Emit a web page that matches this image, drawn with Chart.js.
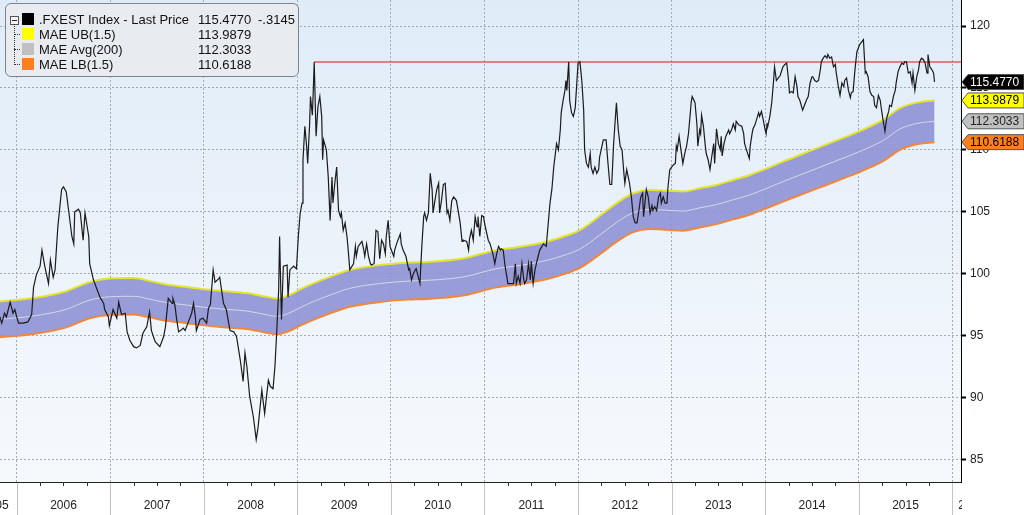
<!DOCTYPE html>
<html>
<head>
<meta charset="utf-8">
<script src="https://cdn.jsdelivr.net/npm/chart.js@4.4.1/dist/chart.umd.min.js"></script>
<style>
  html, body { margin: 0; padding: 0; background: #fff; }
  #wrap { position: relative; width: 1024px; height: 515px; overflow: hidden; }
  #legend {
    position: absolute; left: 5px; top: 3px; width: 292px; height: 72px;
    background: rgba(232, 235, 239, 0.96); border: 1px solid #80858b; border-radius: 6px;
    font-family: "Liberation Sans", Arial, sans-serif; font-size: 13px; color: #111;
  }
  #legend .row { position: absolute; left: 0; height: 15px; line-height: 15px; width: 100%; white-space: nowrap; }
  #legend .sw { position: absolute; left: 16px; top: 1px; width: 12px; height: 12px; }
  #legend .nm { position: absolute; left: 33px; }
  #legend .val { position: absolute; left: 192px; }
  #legend .chg { position: absolute; left: 252px; }
  #legend .tree { position: absolute; left: 8px; top: 20px; width: 0; height: 41px; border-left: 1px dotted #333; }
  #legend .br { position: absolute; left: 8px; width: 6px; height: 0; border-top: 1px dotted #333; }
  #legend .minus { position: absolute; left: 4px; top: 12px; width: 7px; height: 7px; border: 1px solid #555; background: #f4f4f4; }
  #legend .minus:after { content: ""; position: absolute; left: 1px; top: 3px; width: 5px; height: 1px; background: #222; }
</style>
</head>
<body>
<div id="wrap">
  <canvas id="chart" width="1024" height="515"></canvas>
  <div id="legend"></div>
</div>
<script>
// axis ticks / labels
const yearTicks = [2006, 2007, 2008, 2009, 2010, 2011, 2012, 2013, 2014, 2015, 2016];
const yearLabels = ["2005", "2006", "2007", "2008", "2009", "2010", "2011", "2012", "2013", "2014", "2015", "2016"];
const yTicks = [85, 90, 95, 100, 105, 110, 115, 120];
const xMin = 2005.8215, xMax = 2016.093;
const yMin = 83.17, yMax = 122.1;

// .FXEST Index last price (dates as decimal years)
const priceDates = [
  2005.82,2005.84,2005.87,2005.89,2005.93,2005.96,2005.98,2006.00,2006.02,2006.07,2006.12,2006.16,2006.18,2006.21,2006.25,2006.27,2006.30,2006.34,2006.36,2006.39,
  2006.41,2006.44,2006.48,2006.50,2006.53,2006.55,2006.59,2006.61,2006.62,2006.66,2006.68,2006.71,2006.73,2006.77,2006.78,2006.82,2006.85,2006.89,2006.93,2006.94,
  2006.98,2006.99,2007.03,2007.07,2007.09,2007.12,2007.16,2007.18,2007.21,2007.25,2007.28,2007.32,2007.35,2007.39,2007.42,2007.44,2007.48,2007.53,2007.57,2007.59,
  2007.62,2007.66,2007.67,2007.69,2007.71,2007.73,2007.75,2007.78,2007.80,2007.83,2007.87,2007.89,2007.91,2007.92,2007.96,2007.99,2008.03,2008.05,2008.07,2008.10,
  2008.12,2008.16,2008.17,2008.21,2008.24,2008.28,2008.32,2008.35,2008.39,2008.42,2008.44,2008.46,2008.49,2008.53,2008.56,2008.58,2008.62,2008.65,2008.69,2008.71,
  2008.74,2008.76,2008.78,2008.80,2008.81,2008.83,2008.85,2008.89,2008.90,2008.92,2008.96,2008.99,2009.01,2009.03,2009.05,2009.06,2009.08,2009.10,2009.11,2009.13,
  2009.14,2009.16,2009.17,2009.18,2009.20,2009.22,2009.24,2009.26,2009.27,2009.28,2009.31,2009.33,2009.35,2009.37,2009.38,2009.40,2009.42,2009.44,2009.46,2009.47,
  2009.49,2009.51,2009.53,2009.54,2009.56,2009.60,2009.62,2009.63,2009.65,2009.67,2009.69,2009.71,2009.72,2009.74,2009.76,2009.78,2009.79,2009.82,2009.84,2009.86,
  2009.88,2009.90,2009.92,2009.94,2009.95,2009.97,2009.99,2010.03,2010.04,2010.06,2010.10,2010.11,2010.13,2010.16,2010.19,2010.20,2010.22,2010.24,2010.26,2010.27,
  2010.31,2010.33,2010.35,2010.36,2010.38,2010.40,2010.42,2010.44,2010.45,2010.47,2010.49,2010.51,2010.52,2010.54,2010.56,2010.58,2010.60,2010.61,2010.63,2010.65,
  2010.67,2010.70,2010.74,2010.76,2010.77,2010.81,2010.83,2010.84,2010.86,2010.88,2010.90,2010.92,2010.93,2010.95,2010.97,2010.99,2011.00,2011.04,2011.06,2011.09,
  2011.11,2011.13,2011.15,2011.17,2011.18,2011.20,2011.22,2011.24,2011.25,2011.27,2011.31,2011.33,2011.34,2011.36,2011.38,2011.40,2011.42,2011.43,2011.45,2011.47,
  2011.49,2011.50,2011.52,2011.54,2011.56,2011.59,2011.63,2011.66,2011.70,2011.72,2011.74,2011.77,2011.79,2011.81,2011.82,2011.84,2011.86,2011.87,2011.88,2011.90,
  2011.91,2011.93,2011.95,2011.97,2011.98,2012.00,2012.02,2012.04,2012.06,2012.07,2012.09,2012.11,2012.13,2012.14,2012.16,2012.18,2012.20,2012.22,2012.23,2012.27,
  2012.30,2012.32,2012.34,2012.36,2012.38,2012.39,2012.41,2012.43,2012.45,2012.47,2012.49,2012.50,2012.52,2012.55,2012.57,2012.59,2012.61,2012.63,2012.65,2012.67,
  2012.69,2012.70,2012.73,2012.75,2012.77,2012.79,2012.80,2012.82,2012.84,2012.86,2012.88,2012.89,2012.91,2012.93,2012.95,2012.96,2012.98,2013.00,2013.02,2013.04,
  2013.05,2013.06,2013.08,2013.10,2013.12,2013.14,2013.16,2013.18,2013.20,2013.21,2013.22,2013.25,2013.27,2013.28,2013.30,2013.31,2013.32,2013.34,2013.36,2013.37,
  2013.39,2013.41,2013.43,2013.45,2013.46,2013.48,2013.50,2013.52,2013.53,2013.54,2013.56,2013.58,2013.61,2013.62,2013.64,2013.66,2013.68,2013.69,2013.72,2013.75,
  2013.77,2013.78,2013.80,2013.83,2013.84,2013.86,2013.87,2013.89,2013.91,2013.93,2013.94,2013.96,2013.98,2014.00,2014.01,2014.02,2014.03,2014.05,2014.07,2014.09,
  2014.10,2014.12,2014.16,2014.19,2014.21,2014.23,2014.25,2014.26,2014.28,2014.30,2014.32,2014.34,2014.35,2014.37,2014.40,2014.41,2014.44,2014.46,2014.48,2014.50,
  2014.51,2014.53,2014.55,2014.57,2014.59,2014.60,2014.62,2014.64,2014.66,2014.67,2014.69,2014.71,2014.73,2014.75,2014.76,2014.78,2014.80,2014.82,2014.84,2014.85,
  2014.87,2014.89,2014.91,2014.92,2014.94,2014.96,2014.98,2015.00,2015.01,2015.03,2015.05,2015.07,2015.08,2015.10,2015.12,2015.14,2015.16,2015.17,2015.19,2015.21,
  2015.23,2015.24,2015.26,2015.28,2015.30,2015.32,2015.33,2015.35,2015.37,2015.39,2015.40,2015.42,2015.44,2015.46,2015.48,2015.49,2015.51,2015.53,2015.55,2015.57,
  2015.58,2015.60,2015.62,2015.64,2015.65,2015.67,2015.69,2015.71,2015.73,2015.74,2015.76,2015.78,2015.80,2015.81
];
const priceValues = [
  96.5,96.0,96.8,96.5,97.7,96.8,97.1,96.5,96.0,96.0,96.1,96.7,98.9,99.9,100.6,101.9,100.6,99.2,101.1,99.7,
  100.3,103.8,106.8,107.0,106.6,105.4,103.0,102.4,105.0,105.2,104.9,102.7,104.9,103.0,100.8,99.5,98.9,98.1,97.6,97.1,
  96.5,95.8,97.1,96.4,97.7,96.7,96.8,95.3,94.6,94.1,94.0,94.2,95.2,95.7,96.9,95.4,94.5,94.1,94.9,95.7,
  98.0,97.6,98.0,97.5,96.3,95.3,95.4,95.6,95.4,96.0,96.8,97.6,96.5,95.4,96.3,96.4,96.0,97.2,97.5,100.3,
  99.3,99.6,99.7,97.6,97.1,95.4,95.3,94.9,93.0,91.3,93.6,92.5,90.1,88.4,86.6,87.6,90.6,88.7,91.4,90.9,
  90.7,92.5,95.4,98.7,103.0,96.3,100.6,100.7,98.1,100.3,100.6,100.4,103.0,104.9,105.7,109.2,111.9,110.2,108.9,111.9,
  114.3,112.8,114.8,117.1,111.1,113.5,114.3,112.7,109.2,110.8,110.0,107.8,104.3,107.8,105.7,107.3,108.6,105.1,104.6,104.9,
  103.5,104.1,103.0,102.2,100.3,100.8,102.2,101.4,102.2,102.4,102.6,101.9,101.4,102.4,101.4,100.8,100.7,100.8,103.5,103.4,
  101.2,102.7,102.4,101.6,103.0,104.3,102.2,101.4,101.9,102.4,103.2,102.4,101.9,101.4,100.3,100.4,99.5,100.0,100.3,100.4,
  99.2,102.2,104.6,104.9,104.3,104.9,108.1,106.8,104.9,105.9,106.8,107.3,104.9,105.9,107.2,107.3,104.9,105.1,104.3,105.9,
  106.2,105.9,104.1,102.6,102.7,102.6,101.9,102.8,103.5,102.7,104.6,103.8,104.6,103.0,104.7,104.6,104.1,102.7,102.4,101.6,
  100.8,101.6,102.2,101.9,102.0,101.9,100.6,99.7,99.2,99.2,99.2,100.8,99.2,99.8,99.2,100.8,99.5,99.2,99.5,100.8,
  99.5,101.0,99.2,100.3,101.0,101.9,102.4,102.2,105.7,106.8,108.6,110.5,110.0,111.6,113.0,114.0,114.8,115.6,114.8,117.1,
  114.0,113.0,112.7,113.4,114.6,117.0,117.1,115.6,113.2,110.0,108.9,108.6,109.7,108.6,108.1,108.6,108.1,108.4,109.4,110.8,
  110.8,108.9,107.2,107.2,110.5,111.6,113.8,111.6,110.3,110.0,108.1,107.3,108.4,107.3,106.2,104.6,104.1,104.1,105.1,106.2,
  106.5,104.6,106.8,106.2,104.9,105.5,105.1,105.4,105.1,106.2,106.5,105.7,106.2,105.7,105.7,106.9,108.4,108.6,108.8,108.9,
  110.3,110.0,111.1,110.0,108.9,109.7,110.3,111.3,113.0,113.9,114.3,113.8,112.1,110.3,111.6,111.3,112.8,111.9,110.3,109.7,
  109.2,108.4,109.5,110.5,108.9,111.7,110.5,110.0,111.1,109.5,110.5,111.1,111.6,111.3,111.6,112.1,111.6,112.3,112.0,111.9,
  111.3,110.5,110.0,109.3,110.3,111.3,111.7,112.0,112.5,113.0,112.7,113.1,112.4,111.6,111.3,112.1,112.0,112.7,113.8,115.6,
  116.7,115.6,116.0,116.7,116.9,117.0,115.6,114.6,114.7,114.6,115.9,115.1,114.3,114.0,113.2,113.4,114.0,114.3,115.4,115.9,
  115.9,115.6,115.5,115.6,116.5,117.1,117.4,117.6,117.4,117.7,117.4,117.5,116.7,116.9,116.2,115.2,114.4,115.4,115.1,115.6,
  115.8,114.8,114.2,114.6,114.7,116.5,117.9,118.3,118.5,118.7,118.9,116.2,116.3,115.9,114.7,114.4,114.3,113.6,113.4,114.4,
  114.0,113.4,112.4,111.5,112.6,113.1,113.6,113.5,114.3,114.8,115.4,116.3,116.7,117.0,116.9,117.1,117.1,116.2,116.3,115.4,
  116.2,114.8,115.9,116.5,117.1,117.4,117.3,117.0,116.2,117.7,116.7,116.5,116.2,115.477
];
const priceChange = -0.3145;

// moving average envelope MAE(200, 1.5%)
const bandDates = [
  2005.82,2006.18,2006.53,2006.78,2006.99,2007.25,2007.42,2007.60,2007.82,2008.03,2008.24,2008.46,2008.67,2008.78,2008.92,2009.03,2009.17,
  2009.35,2009.56,2009.88,2010.17,2010.42,2010.77,2011.13,2011.38,2011.66,2011.84,2012.02,2012.23,2012.41,2012.59,2012.77,2012.95,
  2013.12,2013.30,2013.48,2013.66,2013.84,2014.02,2014.19,2014.37,2014.55,2014.73,2014.91,2015.08,2015.26,2015.44,2015.62,2015.81
];
const maeAvg = [
  96.31,96.58,97.12,97.86,98.13,98.17,97.94,97.66,97.46,97.26,97.11,96.98,96.68,96.55,96.84,97.26,97.74,
  98.27,98.81,99.20,99.39,99.47,99.73,100.40,100.66,101.06,101.46,101.99,103.10,104.12,104.92,105.18,105.12,
  105.05,105.31,105.58,105.97,106.37,106.90,107.43,107.96,108.49,109.02,109.55,110.09,110.75,111.68,112.13,112.3033
];
const maeUpper = [
  97.75,98.03,98.58,99.33,99.60,99.64,99.41,99.12,98.92,98.72,98.57,98.43,98.13,98.00,98.29,98.72,99.21,
  99.74,100.29,100.69,100.88,100.96,101.23,101.91,102.17,102.58,102.98,103.52,104.65,105.68,106.49,106.76,106.70,
  106.63,106.89,107.16,107.56,107.97,108.50,109.04,109.58,110.12,110.66,111.19,111.74,112.41,113.36,113.81,113.9879
];
const maeLower = [
  94.87,95.13,95.66,96.39,96.66,96.70,96.47,96.20,96.00,95.80,95.65,95.53,95.23,95.10,95.39,95.80,96.27,
  96.80,97.33,97.71,97.90,97.98,98.23,98.89,99.15,99.54,99.94,100.46,101.55,102.56,103.35,103.60,103.54,
  103.47,103.73,104.00,104.38,104.77,105.30,105.82,106.34,106.86,107.38,107.91,108.44,109.09,110.00,110.45,110.6188
];

// horizontal resistance line
const resistLevel = 117.1;
const resistStart = 2009.18;

const seriesNames = [".FXEST Index - Last Price", "MAE UB(1.5)", "MAE Avg(200)", "MAE LB(1.5)"];
const seriesColors = ["#000000", "#ffff00", "#c0c0c0", "#ff7f1e"];

function pts(xs, ys) {
  return xs.map((x, i) => ({ x: x, y: ys[i] }));
}
function fmt(v) {
  let s = Math.abs(v).toFixed(4);
  if (Math.abs(v) < 1) s = s.substring(1);
  return (v < 0 ? "-" : "") + s;
}
const last = (a) => a[a.length - 1];
const lastValues = [last(priceValues), last(maeUpper), last(maeAvg), last(maeLower)];

// legend box
let legend = document.getElementById("legend");
let html = '<div class="minus"></div><div class="tree"></div>';
seriesNames.forEach((name, i) => {
  let top = 8 + i * 15;
  if (i > 0) html += `<div class="br" style="top:${top + 7}px"></div>`;
  html += `<div class="row" style="top:${top}px"><span class="sw" style="background:${seriesColors[i]}"></span>` +
    `<span class="nm">${name}</span><span class="val">${fmt(lastValues[i])}</span>` +
    (i == 0 ? `<span class="chg">${fmt(priceChange)}</span>` : "") + "</div>";
});
legend.innerHTML = html;

const bgPlugin = {
  id: "bg",
  beforeDraw(chart) {
    const { ctx, chartArea: a } = chart;
    ctx.save();
    ctx.fillStyle = "#ffffff";
    ctx.fillRect(0, 0, chart.width, chart.height);
    let g = ctx.createLinearGradient(0, a.top, 0, a.bottom);
    g.addColorStop(0, "#dfecf8");
    g.addColorStop(1, "#f6f9fc");
    ctx.fillStyle = g;
    ctx.fillRect(a.left, a.top, a.right - a.left, a.bottom - a.top);
    ctx.restore();
  },
};

function drawTag(ctx, y, text, bg, fg) {
  const x0 = 962, h = 15, right = 1024;
  ctx.beginPath();
  ctx.moveTo(x0, y);
  ctx.lineTo(x0 + 6, y - h / 2);
  ctx.lineTo(right, y - h / 2);
  ctx.lineTo(right, y + h / 2);
  ctx.lineTo(x0 + 6, y + h / 2);
  ctx.closePath();
  ctx.fillStyle = bg;
  ctx.fill();
  ctx.strokeStyle = "#555";
  ctx.lineWidth = 1;
  ctx.stroke();
  ctx.fillStyle = fg;
  ctx.font = '12px "Liberation Sans", Arial, sans-serif';
  ctx.textAlign = "left";
  ctx.textBaseline = "middle";
  ctx.fillText(text, x0 + 8, y + 0.5);
}

const axisPlugin = {
  id: "axisdeco",
  afterDraw(chart) {
    const { ctx, chartArea: a } = chart;
    const xs = chart.scales.x, ys = chart.scales.y;
    ctx.save();
    // quarter ticks + year separators
    ctx.beginPath();
    ctx.rect(0, a.bottom, a.right + 1, chart.height - a.bottom);
    ctx.clip();
    ctx.strokeStyle = "#333";
    ctx.lineWidth = 1;
    for (let q = Math.ceil(xMin * 4) / 4; q <= xMax; q += 0.25) {
      let px = Math.round(xs.getPixelForValue(q)) + 0.5;
      ctx.beginPath();
      ctx.moveTo(px, a.bottom);
      ctx.lineTo(px, a.bottom + 4);
      ctx.stroke();
    }
    ctx.strokeStyle = "#c4c4c4";
    yearTicks.forEach((yr) => {
      let px = Math.round(xs.getPixelForValue(yr)) + 0.5;
      ctx.beginPath();
      ctx.moveTo(px, a.bottom + 1);
      ctx.lineTo(px, chart.height);
      ctx.stroke();
    });
    ctx.fillStyle = "#222";
    ctx.font = '12px "Liberation Sans", Arial, sans-serif';
    ctx.textBaseline = "middle";
    yearLabels.forEach((lab) => {
      let yr = parseInt(lab);
      let l = xs.getPixelForValue(yr), r = xs.getPixelForValue(yr + 1);
      if (l < a.left) {
        ctx.textAlign = "right";
        ctx.fillText(lab, r - 8, a.bottom + 24);
      } else if (r > a.right) {
        ctx.textAlign = "left";
        ctx.fillText(lab, l + 6, a.bottom + 24);
      } else {
        ctx.textAlign = "center";
        ctx.fillText(lab, (l + r) / 2, a.bottom + 24);
      }
    });
    ctx.restore();
    // value tags on the right axis
    ctx.save();
    const tagFg = ["#ffffff", "#000000", "#222222", "#000000"];
    lastValues.forEach((v, i) => {
      drawTag(ctx, ys.getPixelForValue(v), fmt(v), seriesColors[i], tagFg[i]);
    });
    ctx.restore();
  },
};

new Chart(document.getElementById("chart"), {
  type: "line",
  data: {
    datasets: [
      { label: seriesNames[0], data: pts(priceDates, priceValues), borderColor: "#1b1b1b", borderWidth: 1.2, pointRadius: 0, fill: false, tension: 0 },
      { label: "resist", data: [{ x: resistStart, y: resistLevel }, { x: xMax, y: resistLevel }], borderColor: "#e05a5a", borderWidth: 1.5, pointRadius: 0, fill: false },
      { label: seriesNames[2], data: pts(bandDates, maeAvg), borderColor: "#d6d8e6", borderWidth: 1, pointRadius: 0, fill: false, cubicInterpolationMode: "monotone" },
      { label: seriesNames[3], data: pts(bandDates, maeLower), borderColor: "#f0873a", borderWidth: 2, pointRadius: 0, fill: false, cubicInterpolationMode: "monotone" },
      { label: seriesNames[1], data: pts(bandDates, maeUpper), borderColor: "#e4e42a", borderWidth: 2, pointRadius: 0, fill: "-1", backgroundColor: "rgba(140,143,212,0.88)", cubicInterpolationMode: "monotone" },
    ],
  },
  options: {
    responsive: false,
    animation: false,
    devicePixelRatio: 1,
    layout: { padding: 0 },
    plugins: { legend: { display: false }, tooltip: { enabled: false } },
    scales: {
      x: {
        type: "linear",
        position: "bottom",
        min: xMin,
        max: xMax,
        afterBuildTicks: (s) => { s.ticks = yearTicks.map((v) => ({ value: v })); },
        afterFit: (s) => { s.height = 33; s.paddingLeft = 0; s.paddingRight = 0; },
        ticks: { display: false },
        grid: { color: "#a2abb5", lineWidth: 1, drawTicks: false },
        border: { display: true, color: "#222", width: 1, dash: [2, 2] },
      },
      y: {
        position: "right",
        min: yMin,
        max: yMax,
        afterBuildTicks: (s) => { s.ticks = yTicks.map((v) => ({ value: v })); },
        afterFit: (s) => { s.width = 63; s.paddingTop = 0; s.paddingBottom = 0; },
        ticks: { color: "#222", padding: 4, font: { family: "Liberation Sans", size: 12 } },
        grid: { color: "#a2abb5", lineWidth: 1, tickLength: 5, tickColor: "#000", tickWidth: 2 },
        border: { display: true, color: "#000", width: 1, dash: [2, 2] },
      },
    },
  },
  plugins: [bgPlugin, axisPlugin],
});
</script>
</body>
</html>
